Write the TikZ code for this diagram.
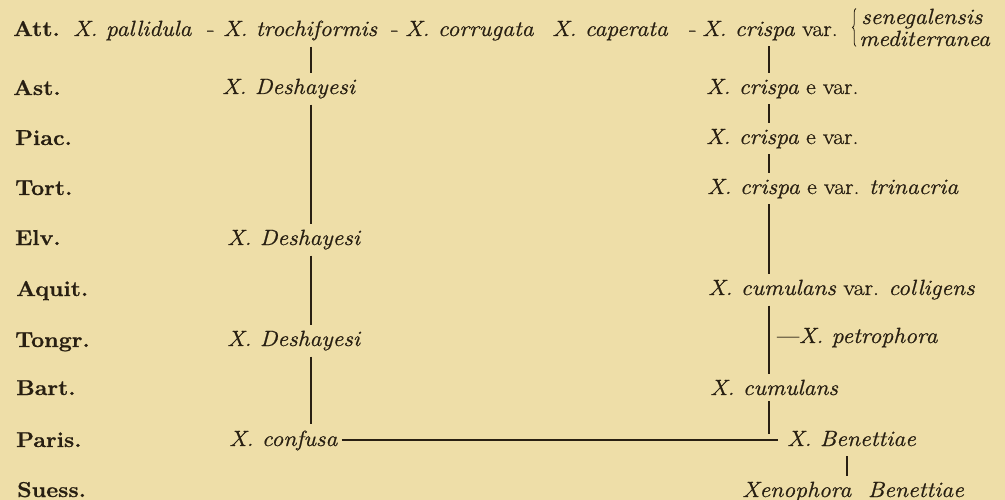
\documentclass[tikz,border=0pt]{standalone}
\usepackage{fontspec}
\setmainfont{Latin Modern Roman}[FakeStretch=1.08, FakeBold=0.8]
\usetikzlibrary{decorations.pathreplacing}
\definecolor{paper}{RGB}{238,222,168}
\definecolor{ink}{RGB}{40,31,18}
\tikzset{
  sp/.style={inner sep=0pt, anchor=base west, text=ink, font=\fontsize{22}{26}\selectfont},
  lab/.style={inner sep=0pt, anchor=base west, text=ink, font=\fontsize{21.5}{25}\selectfont\bfseries},
  link/.style={draw=ink, line width=1.1pt, shorten <=6pt, shorten >=6pt},
  bracestyle/.style={draw=ink, line width=0.8pt, decorate, decoration={brace, amplitude=3.5pt}},
}
\begin{document}
\begin{tikzpicture}[x=1pt,y=-1pt]
\fill[paper] (0,0) rectangle (1005,500);
\useasboundingbox (0,0) rectangle (1005,500);
% row labels
\node[lab] (lAtt) at (13,36) {Att.};
\node[lab] (lAst) at (13,95) {Ast.};
\node[lab] (lPiac) at (15,145) {Piac.};
\node[lab] (lTort) at (15,195) {Tort.};
\node[lab] (lElv) at (15,245) {Elv.};
\node[lab] (lAquit) at (16,296) {Aquit.};
\node[lab] (lTongr) at (15,347) {Tongr.};
\node[lab] (lBart) at (16,395) {Bart.};
\node[lab] (lParis) at (16,447) {Paris.};
\node[lab] (lSuess) at (17,497) {Suess.};
% top row
\node[sp] (t1) at (73,36) {\itshape X. pallidula};
\node[sp] (h1) at (207,36) {-};
\node[sp] (t2) at (223,36) {\itshape X. trochiformis};
\node[sp] (h2) at (391,36) {-};
\node[sp] (t3) at (405,36) {\itshape X. corrugata};
\node[sp] (t4) at (552,36) {\itshape X. caperata};
\node[sp] (h3) at (689,36) {-};
\node[sp] (t5) at (702,36) {\textit{X. crispa} var.};
\node[sp] (sg) at (861,24) {\itshape senegalensis};
\node[sp] (me) at (859,46) {\itshape mediterranea};
\draw[bracestyle] ([xshift=-3pt]me.south west) -- ([xshift=-3pt]me.south west |- sg.north);
% left column
\node[sp] (d1) at (222,94) {\itshape X. Deshayesi};
\node[sp] (d2) at (227,245) {\itshape X. Deshayesi};
\node[sp] (d3) at (227,346) {\itshape X. Deshayesi};
\node[sp] (cf) at (229,446) {\itshape X. confusa};
% right column
\node[sp] (c1) at (706,94) {\textit{X. crispa} e var.};
\node[sp] (c2) at (706,144) {\textit{X. crispa} e var.};
\node[sp] (c3) at (707,194) {\textit{X. crispa} e var. \textit{trinacria}};
\node[sp] (cu1) at (708,295) {\textit{X. cumulans} var. \textit{colligens}};
\node[sp] (pe) at (777,343) {---\textit{X. petrophora}};
\node[sp] (cu2) at (710,395) {\itshape X. cumulans};
\node[sp] (be) at (787,446) {\itshape X. Benettiae};
\node[sp] (xe) at (742,497) {\itshape Xenophora\ \ Benettiae};
% connectors
\coordinate (xL) at (311,0);
\coordinate (xR) at (769,0);
\coordinate (xB) at (847,0);
\coordinate (J) at (778,440);
\draw[link] (t2.south -| xL) -- (d1.north -| xL);
\draw[link] (d1.south -| xL) -- (d2.north -| xL);
\draw[link] (d2.south -| xL) -- (d3.north -| xL);
\draw[link] (d3.south -| xL) -- (cf.north -| xL);
\draw[link] (t5.south -| xR) -- (c1.north -| xR);
\draw[link] (c1.south -| xR) -- (c2.north -| xR);
\draw[link] (c2.south -| xR) -- (c3.north -| xR);
\draw[link] (c3.south -| xR) -- (cu1.north -| xR);
\draw[link] (cu1.south -| xR) -- (cu2.north -| xR);
\draw[link, shorten >=0pt] (cu2.south -| xR) -- ([yshift=6pt]xR |- J);
\draw[link, shorten <=4pt, shorten >=0pt] (cf.east |- J) -- (J);
\draw[link, shorten <=10pt] (be.south -| xB) -- (xe.north -| xB);
\end{tikzpicture}
\end{document}
